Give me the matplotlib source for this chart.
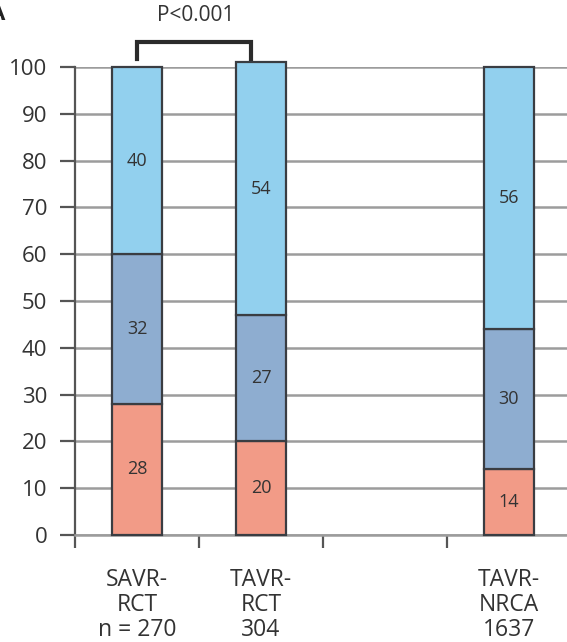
"""
Stacked percentage bars: SAVR-RCT vs TAVR-RCT vs TAVR-NRCA.

    python3 plot.py     # writes out.png
"""

import matplotlib

matplotlib.use("Agg")
import matplotlib.pyplot as plt

plt.rcParams["font.family"] = ["Open Sans", "DejaVu Sans"]

# category slots on the x axis; the third slot is left empty on purpose
SLOTS = [0, 1, 3]
GROUP_LABELS = ["SAVR-\nRCT\nn = 270", "TAVR-\nRCT\n304", "TAVR-\nNRCA\n1637"]

# percent per segment, bottom -> top
BOTTOM = [28, 20, 14]
MIDDLE = [32, 27, 30]
TOP = [40, 54, 56]

SEGMENT_COLORS = ["#f29b87", "#8eadd0", "#92d0ee"]
EDGE = "#3a3d42"
TEXT = "#333333"
GRID = "#9c9c9c"


def main() -> None:
    fig = plt.figure(figsize=(5.67, 6.42), dpi=100)
    ax = fig.add_axes([75 / 567, 107 / 642, 492 / 567, 468 / 642])

    width = 0.4
    base = [0] * len(SLOTS)
    for values, color in zip([BOTTOM, MIDDLE, TOP], SEGMENT_COLORS):
        ax.bar(SLOTS, values, width=width, bottom=base, color=color,
               edgecolor=EDGE, linewidth=1.6, zorder=3, clip_on=False)
        for x, b, v in zip(SLOTS, base, values):
            ax.text(x, b + v / 2, str(v), ha="center", va="center",
                    fontsize=13, color=TEXT, zorder=4)
        base = [b + v for b, v in zip(base, values)]

    ax.set_xlim(-0.5, -0.5 + 492 / 124)
    ax.set_ylim(0, 100)

    ax.set_yticks(range(0, 101, 10))
    ax.yaxis.grid(True, color=GRID, linewidth=1.8, zorder=0)
    ax.set_axisbelow(True)

    # boundaries between slots get the tick marks, the names sit in between
    ax.set_xticks([-0.5, 0.5, 1.5, 2.5])
    ax.set_xticklabels([])
    ax.set_xticks(SLOTS, minor=True)
    ax.set_xticklabels(GROUP_LABELS, minor=True, fontsize=16.5, color=TEXT,
                       linespacing=1.05)
    ax.tick_params(axis="x", which="major", direction="out", length=9,
                   width=1.6, color="#555555")
    ax.tick_params(axis="x", which="minor", length=0, pad=24)
    ax.tick_params(axis="y", direction="out", length=11, width=1.6,
                   color="#555555", labelsize=16, labelcolor=TEXT, pad=9)

    for side in ("top", "right"):
        ax.spines[side].set_visible(False)
    ax.spines["left"].set_color("#555555")
    ax.spines["left"].set_linewidth(1.6)
    ax.spines["bottom"].set_color(GRID)
    ax.spines["bottom"].set_linewidth(1.8)

    # significance bracket between the two RCT arms
    ax.plot([0.0, 0.0, 0.92, 0.92], [101.8, 105.3, 105.3, 101.8],
            color="#2b2b2b", linewidth=3.0, clip_on=False,
            solid_joinstyle="miter")
    ax.text(0.47, 111.0, "P<0.001", ha="center", va="center",
            fontsize=15, color=TEXT, clip_on=False)

    fig.text(5 / 567, 1 - 20 / 642, "A", fontsize=16, fontweight="bold",
             color="#222222", ha="right", va="baseline")

    fig.savefig("out.png", dpi=100)


if __name__ == "__main__":
    main()
